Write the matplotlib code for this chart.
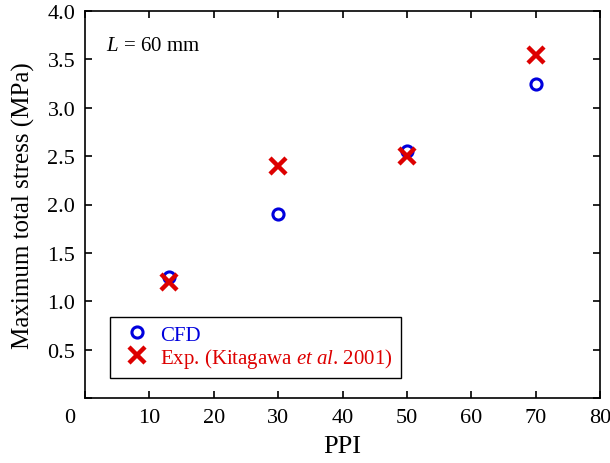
import matplotlib.pyplot as plt
import numpy as np

plt.rcParams['font.family'] = ['Liberation Serif', 'DejaVu Serif']
plt.rcParams['mathtext.fontset'] = 'custom'
plt.rcParams['mathtext.rm'] = 'Liberation Serif'
plt.rcParams['mathtext.it'] = 'Liberation Serif:italic'

# PPI of the foam samples
ppi = [13, 30, 50, 70]
# maximum total stress (MPa)
stress_cfd = [1.25, 1.9, 2.55, 3.25]
stress_exp = [1.2, 2.4, 2.5, 3.55]

xticks = np.arange(0, 90, 10)
yticks = np.arange(0, 4.5, 0.5)

blue = '#0000dd'
red = '#dd0000'


def main():
    fig = plt.figure(figsize=(6.1, 4.64), dpi=100)
    ax = fig.add_axes([85 / 610, 65 / 464, 515 / 610, 387 / 464])

    ax.plot(ppi, stress_cfd, linestyle='none', marker='o', markersize=8,
            markerfacecolor='none', markeredgecolor=blue, markeredgewidth=2.2,
            label='CFD', zorder=3)
    ax.plot(ppi, stress_exp, linestyle='none', marker='x', markersize=11,
            markeredgecolor=red, markeredgewidth=3.2,
            label='Exp. (Kitagawa $\\it{et\\ al}$. 2001)', zorder=4)

    ax.set_xlim(0, 80)
    ax.set_ylim(0, 4.0)
    ax.set_xticks(xticks)
    ax.set_xticklabels([''] + [str(t) for t in xticks[1:]])
    ax.set_yticks(yticks)
    ax.set_yticklabels([''] + [f'{t:.1f}' for t in yticks[1:]])
    ax.tick_params(direction='in', length=5, width=1.2, labelsize=16,
                   top=True, right=True, pad=7)
    for s in ax.spines.values():
        s.set_linewidth(1.2)

    # shared zero at the corner
    ax.annotate('0', xy=(0, 0), xycoords='axes fraction', xytext=(-11, -7),
                textcoords='offset points', ha='center', va='top', fontsize=16)

    ax.set_xlabel('PPI', fontsize=19, labelpad=6)
    ax.set_ylabel('Maximum total stress (MPa)', fontsize=18, labelpad=9)

    ax.text(0.04, 0.91, '$L$ = 60 mm', transform=ax.transAxes, fontsize=15,
            va='center', ha='left')

    leg = ax.legend(loc='lower left', bbox_to_anchor=(0.0485, 0.052),
                    borderaxespad=0, fancybox=False, edgecolor='black',
                    framealpha=1, fontsize=15, handletextpad=0.2,
                    borderpad=0.4, labelspacing=0.05, handlelength=1.8)
    leg.get_frame().set_linewidth(1.0)
    for txt, c in zip(leg.get_texts(), [blue, red]):
        txt.set_color(c)

    fig.savefig('out.png', dpi=100)


if __name__ == "__main__":
    main()
